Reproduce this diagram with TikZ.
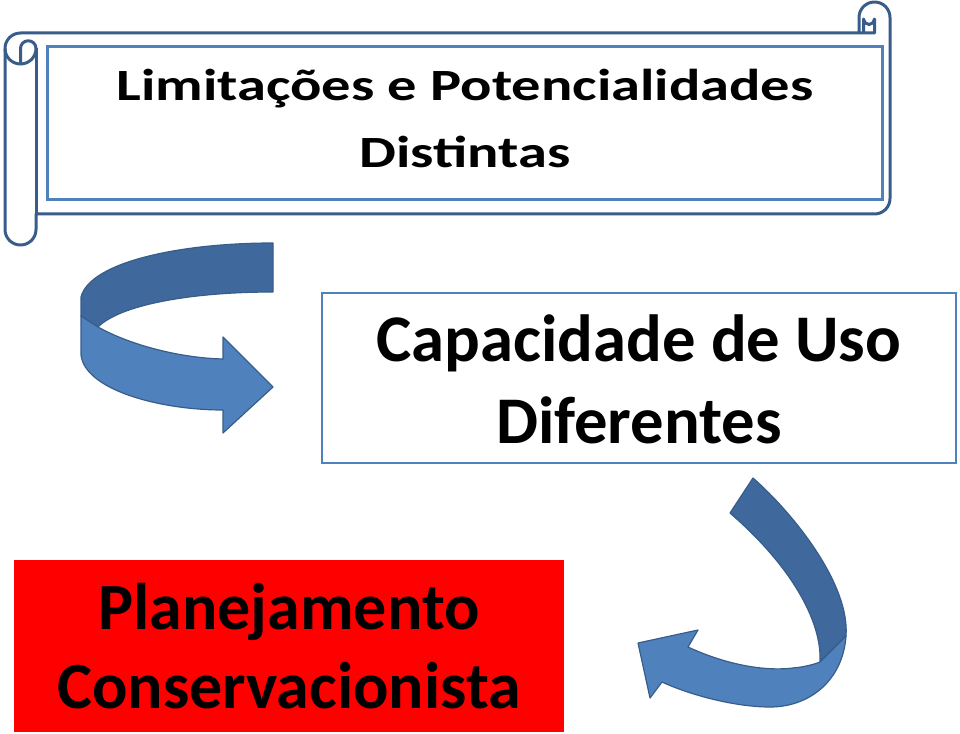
\documentclass[tikz,border=0pt]{standalone}
\usepackage{fontspec}
\setmainfont{Carlito}
\definecolor{scrollblue}{RGB}{56,93,138}
\definecolor{boxblue}{RGB}{79,129,189}
\definecolor{backblue}{RGB}{63,104,157}

\begin{document}
\begin{tikzpicture}[x=0.75pt,y=-0.75pt,
        scrollline/.style={draw=scrollblue,line width=2.25pt,line join=round},
        ribbonback/.style={fill=backblue,draw=scrollblue,line width=0.9pt,line join=round},
        ribbonfront/.style={fill=boxblue,draw=scrollblue,line width=0.9pt,line join=round}]
        \useasboundingbox (0,0) rectangle (960,734);

        %draw the scroll with its two rolls
        \draw[scrollline,fill=white] (5,48.5) arc(180:270:15.5) -- (859,33) -- (859,17.5) arc(180:360:15.5) -- (890,198.5) arc(0:90:15.5) -- (36,214) -- (36,229.5) arc(0:180:15.5) -- cycle;
        \draw[scrollline] (20.5,64) -- (20.5,48.5) arc(180:360:7.75) arc(0:180:15.5);
        \draw[scrollline] (36,48.5) -- (36,214);
        \draw[scrollline] (859,33) -- (874.5,33) -- (874.5,19) arc(0:180:5.5) -- (863.5,33);
        \node[draw=boxblue,line width=2.25pt,minimum width=626.25pt,minimum height=114.75pt] (limites) at (464.5,123.5) {};
        \node[font=\bfseries\fontsize{33.5}{50.25}\selectfont,align=center,xscale=1.31,transform shape] (limitestxt) at (465,118.5) {Limitações e Potencialidades\\Distintas};

        %box for the land use capacity
        \node[draw=boxblue,line width=2pt,minimum width=475.5pt,minimum height=127.5pt] (uso) at (639,378) {};
        \node[font=\bfseries\fontsize{50}{61}\selectfont,align=center] (usotxt) at (639,379.5) {Capacidade de Uso\\Diferentes};

        %red box at the bottom
        \node[fill=red,inner sep=0pt,minimum width=412.5pt,minimum height=129pt] (plano) at (289,646) {};
        \node[font=\bfseries\fontsize{49.5}{59.5}\selectfont,align=center] (planotxt) at (289,646) {Planejamento\\Conservacionista};

        %curved arrow on the left
        \draw[ribbonback] (273,243) .. controls (180,243) and (90,262) .. (81,297) -- (81,316) -- (98,327) .. controls (120,305) and (190,292) .. (273,292) -- cycle;
        \draw[ribbonfront] (81,316) -- (98,327) .. controls (130,345) and (180,358) .. (223,359) -- (223,337) -- (273,387) -- (223,433) -- (223,410) .. controls (160,410) and (85,390) .. (81,355) -- cycle;

        %curved arrow on the right
        \draw[ribbonback] (730,513) -- (753,478) .. controls (795,515) and (850,585) .. (846,636) -- (820,662) .. controls (822,620) and (790,565) .. (730,513) -- cycle;
        \draw[ribbonfront] (820,662) -- (846,636) .. controls (843,680) and (810,707) .. (770,707) .. controls (735,707) and (690,695) .. (662,682) -- (650,698) -- (638,643) -- (698,630) -- (688,647) .. controls (720,662) and (760,672) .. (793,668) .. controls (805,667) and (815,664) .. (820,662) -- cycle;
\end{tikzpicture}
\end{document}
